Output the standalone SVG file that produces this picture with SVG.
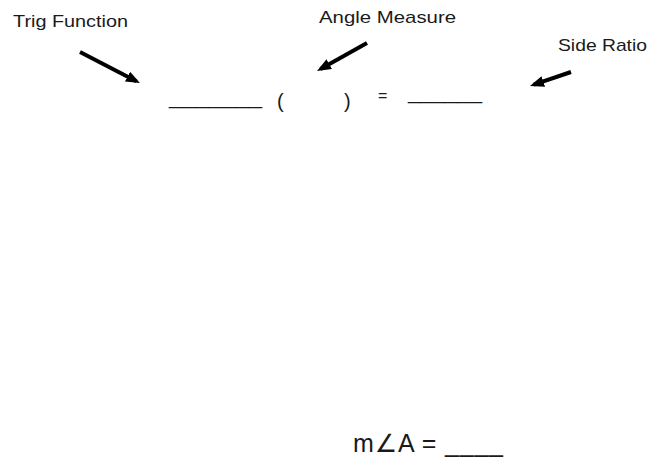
<svg xmlns="http://www.w3.org/2000/svg" width="656" height="457" viewBox="0 0 656 457">
<style>
.t{font-family:"Liberation Sans","DejaVu Sans",Arial,sans-serif;fill:#1a1a1a}
.arr{stroke:#000;stroke-width:4;fill:none;marker-end:url(#ah)}
</style>
<defs>
<marker id="ah" markerUnits="userSpaceOnUse" markerWidth="16" markerHeight="12" refX="10" refY="5.5" orient="auto">
<path d="M0,0 L14,5.5 L0,11 Z" fill="#000"/>
</marker>
</defs>
<rect width="656" height="457" fill="#fff"/>
<g id="trig-function"><text class="t" x="13" y="27" font-size="17" textLength="115" lengthAdjust="spacingAndGlyphs">Trig Function</text></g>
<g id="angle-measure"><text class="t" x="319" y="22.5" font-size="17" textLength="137" lengthAdjust="spacingAndGlyphs">Angle Measure</text></g>
<g id="side-ratio"><text class="t" x="558" y="51" font-size="17" textLength="89" lengthAdjust="spacingAndGlyphs">Side Ratio</text></g>
<g id="equation">
<text class="t" x="169" y="105" font-size="16" textLength="93" lengthAdjust="spacingAndGlyphs">_______</text>
<text class="t" x="277" y="108" font-size="20">(</text>
<text class="t" x="344" y="108" font-size="20">)</text>
<text class="t" x="378" y="100.5" font-size="16">=</text>
<text class="t" x="408" y="100" font-size="16" textLength="74" lengthAdjust="spacingAndGlyphs">______</text>
</g>
<g id="angle-answer"><text class="t" x="353" y="452" font-size="25" textLength="150" lengthAdjust="spacing">m∠A = ____</text></g>
<g id="connectors">
<line class="arr" x1="80" y1="52" x2="136.4" y2="81.2"/>
<line class="arr" x1="367" y1="43" x2="320.5" y2="69"/>
<line class="arr" x1="571" y1="72" x2="533.8" y2="84.7"/>
</g>
</svg>
